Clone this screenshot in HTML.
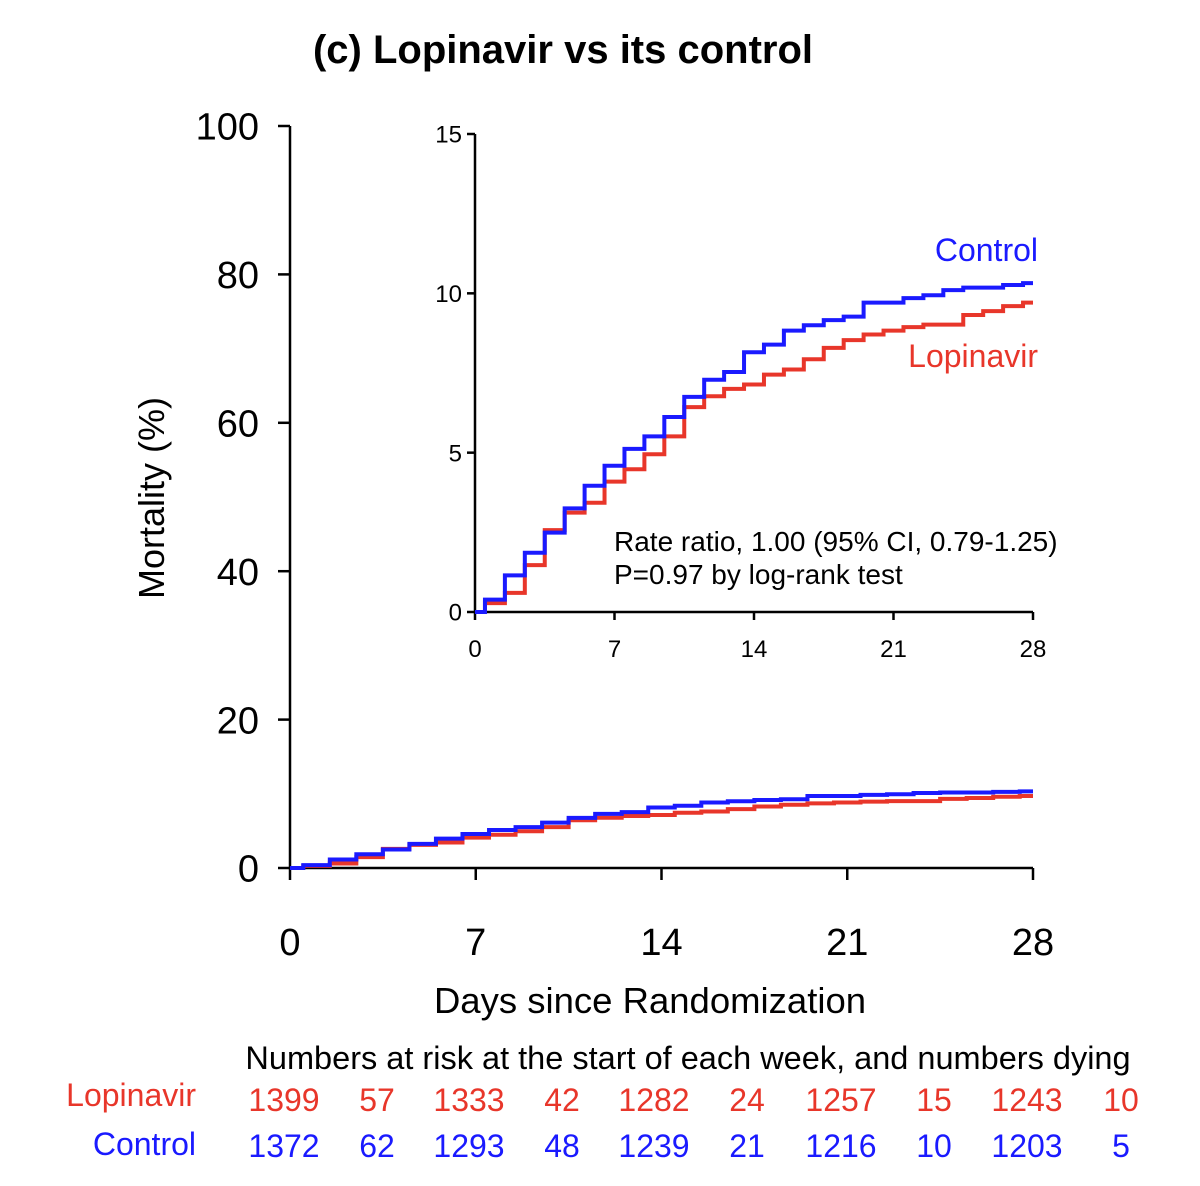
<!DOCTYPE html>
<html><head><meta charset="utf-8"><style>
body{margin:0;background:#fff}
svg{display:block;font-family:"Liberation Sans",Arial,sans-serif}
</style></head><body>
<svg id="c" width="1200" height="1186" viewBox="0 0 1200 1186">
<text x="563" y="63" font-size="40" font-weight="bold" text-anchor="middle">(c) Lopinavir vs its control</text>
<text transform="translate(164,498) rotate(-90)" font-size="36" text-anchor="middle">Mortality (%)</text>
<text x="650" y="1013" font-size="36.5" text-anchor="middle">Days since Randomization</text>
<text x="688" y="1069" font-size="32.5" text-anchor="middle">Numbers at risk at the start of each week, and numbers dying</text>
<text x="196" y="1106" font-size="32" fill="#e8362a" text-anchor="end">Lopinavir</text>
<text x="196" y="1155" font-size="32" fill="#1a1aff" text-anchor="end">Control</text>
<g id="main"></g><g id="inset"></g><g id="risk"></g>
</svg>
<script>
const days=[0.5,1.5,2.5,3.5,4.5,5.5,6.5,7.5,8.5,9.5,10.5,11.5,12.5,13.5,14.5,15.5,16.5,17.5,18.5,19.5,20.5,21.5,22.5,23.5,24.5,25.5,26.5,27.5];
const control=[0.39,1.15,1.86,2.49,3.25,3.96,4.59,5.12,5.51,6.12,6.75,7.29,7.53,8.15,8.39,8.83,9.0,9.16,9.27,9.71,9.71,9.85,9.94,10.1,10.18,10.18,10.26,10.32];
const lopinavir=[0.28,0.6,1.47,2.57,3.12,3.43,4.09,4.48,4.95,5.51,6.43,6.77,7.0,7.14,7.45,7.61,7.93,8.29,8.53,8.71,8.83,8.94,9.02,9.02,9.32,9.44,9.6,9.71];
const xTicks=[0,7,14,21,28];
const mainYTicks=[0,20,40,60,80,100];
const insetYTicks=[0,5,10,15];
const riskLop=["1399","57","1333","42","1282","24","1257","15","1243","10"];
const riskCtl=["1372","62","1293","48","1239","21","1216","10","1203","5"];
const NS="http://www.w3.org/2000/svg";
function mk(tag,attrs,parent,txt){const e=document.createElementNS(NS,tag);for(const k in attrs)e.setAttribute(k,attrs[k]);if(txt!==undefined)e.textContent=txt;parent.appendChild(e);return e;}
function stepPath(sx,sy,vals){let d="M"+sx(0)+","+sy(0);for(let i=0;i<days.length;i++){d+=" H"+sx(days[i])+" V"+sy(vals[i]);}d+=" H"+sx(28);return d;}
function drawAxes(g,x0,x1,y0,y1,ymax,yT,fs,tickLen,xlY,ylX,prefix){
 const sx=v=>x0+(x1-x0)*v/28, sy=v=>y0-(y0-y1)*v/ymax;
 mk("path",{d:`M${x0},${y1} V${y0} H${x1}`,stroke:"#000","stroke-width":2.5,fill:"none"},g);
 xTicks.forEach(t=>{mk("line",{x1:sx(t),x2:sx(t),y1:y0,y2:y0+tickLen,stroke:"#000","stroke-width":2.5},g);
  const tx=mk("text",{x:sx(t),y:xlY,"font-size":fs,"text-anchor":"middle"},g,t);
  
  });
 yT.forEach(t=>{mk("line",{x1:x0-tickLen,x2:x0,y1:sy(t),y2:sy(t),stroke:"#000","stroke-width":2.5},g);
  const tx=mk("text",{x:ylX,y:sy(t)+fs*0.36,"font-size":fs,"text-anchor":"end"},g,t);
  
  });
 const pl=mk("path",{d:stepPath(sx,sy,lopinavir),stroke:"#e8362a","stroke-width":4,fill:"none"},g);
 
 
 const pc=mk("path",{d:stepPath(sx,sy,control),stroke:"#1a1aff","stroke-width":4,fill:"none"},g);
 
 
}
const main=document.getElementById("main");
drawAxes(main,290,1033,868,126,100,mainYTicks,38,12,955,259,"main");
const ins=document.getElementById("inset");
drawAxes(ins,475,1033,612,134,15,insetYTicks,24,8,657,462,"inset");
const a=mk("text",{x:1038,y:261,"font-size":32,fill:"#1a1aff","text-anchor":"end"},ins,"Control");


const b=mk("text",{x:1038,y:367,"font-size":32,fill:"#e8362a","text-anchor":"end"},ins,"Lopinavir");


const s1=mk("text",{x:614,y:551,"font-size":28},ins,"Rate ratio, 1.00 (95% CI, 0.79-1.25)");


const s2=mk("text",{x:614,y:584,"font-size":28},ins,"P=0.97 by log-rank test");


const risk=document.getElementById("risk");
const rx=[284,377,469,562,654,747,841,934,1027,1121];
riskLop.forEach((v,i)=>{const t=mk("text",{x:rx[i],y:1111,"font-size":32,fill:"#e8362a","text-anchor":"middle"},risk,v);
 
 });
riskCtl.forEach((v,i)=>{const t=mk("text",{x:rx[i],y:1157,"font-size":32,fill:"#1a1aff","text-anchor":"middle"},risk,v);
 
 });
</script>
</body></html>
